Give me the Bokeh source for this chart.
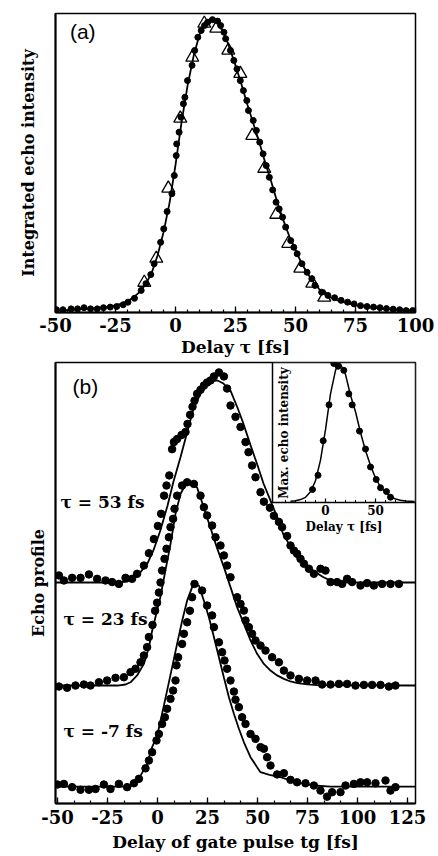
from bokeh.plotting import figure
from bokeh.models import Range1d, FixedTicker, SingleIntervalTicker, Label, CustomJSTickFormatter
from bokeh.layouts import column
from bokeh.embed import file_html
from bokeh.resources import INLINE
import math

SERIF = "DejaVu Serif"
SANS = "Liberation Sans"

# ---------------- panel (a) data ----------------
a_dot_tau = [-49.6,-46.9,-43.5,-40.8,-38.1,-35.4,-32.6,-30.0,-27.2,-24.5,-21.8,-19.8,-17.1,-14.3,-12.3,-10.3,-8.9,-6.2,-4.9,-3.5,
             -1.5,-0.5,0.3,0.5,1.5,2.3,3.3,3.9,5.0,6.9,8.0,9.3,10.7,12.1,13.4,15.4,17.5,18.8,20.2,20.9,
             22.9,24.3,25.6,27.0,28.3,29.7,30.4,32.4,33.7,35.1,36.5,37.8,39.1,40.5,41.9,43.2,44.6,45.9,48.0,49.3,
             50.7,52.7,54.8,56.8,58.1,60.9,63.5,66.3,69.0,71.7,74.4,77.1,79.8,82.5,85.2,87.9,90.7,93.4,96.1,98.8]
a_dot_I = [0.006,0.006,0.009,0.009,0.013,0.009,0.009,0.013,0.015,0.017,0.023,0.032,0.045,0.072,0.095,0.126,0.163,0.236,0.282,0.341,
           0.402,0.464,0.532,0.572,0.612,0.663,0.709,0.731,0.788,0.840,0.891,0.936,0.959,0.976,0.987,0.996,0.991,0.976,0.953,0.931,
           0.891,0.857,0.828,0.788,0.754,0.720,0.686,0.652,0.618,0.578,0.538,0.498,0.458,0.415,0.373,0.350,0.322,0.288,0.242,0.219,
           0.197,0.163,0.134,0.112,0.089,0.066,0.055,0.047,0.038,0.032,0.026,0.020,0.017,0.015,0.013,0.010,0.008,0.006,0.003,0.003]
a_tri_tau = [-13,-8,-3,2,7,12,17,22,27,32,37,42,47,52,57,62]
a_tri_I = [0.099,0.181,0.42,0.659,0.867,0.983,0.966,0.891,0.812,0.60,0.488,0.331,0.232,0.147,0.096,0.048]
a_line_tau = [-50,-47.5,-45,-42.5,-40,-37.5,-35,-32.5,-30,-27.5,-25,-22.5,-20,-17.5,-15,-12.5,-10,-7.5,-5,-2.5,
              0,2.5,5,7.5,10,12.5,15,17.5,20,22.5,25,27.5,30,32.5,35,37.5,40,42.5,45,47.5,
              50,52.5,55,57.5,60,62.5,65,67.5,70,72.5,75,77.5,80,82.5,85,87.5,90,92.5,95,97.5,100]
a_line_I = [0.003,0.004,0.005,0.006,0.008,0.009,0.010,0.012,0.014,0.017,0.021,0.027,0.036,0.048,0.066,0.092,0.13,0.19,0.27,0.37,
            0.50,0.645,0.77,0.87,0.945,0.99,1.0,0.99,0.955,0.90,0.84,0.775,0.705,0.64,0.575,0.505,0.44,0.37,0.31,0.255,
            0.21,0.165,0.13,0.10,0.075,0.058,0.046,0.038,0.032,0.027,0.022,0.018,0.015,0.013,0.011,0.009,0.007,0.006,0.005,0.004,0.003]

# ---------------- panel (b) data ----------------
b53_tg = [-49.3,-46.8,-42.7,-38.5,-34.3,-30.2,-26.0,-22.7,-19.3,-16.0,-12.7,-10.2,-6.8,-4.3,-1.8,0.2,1.8,3.3,4.5,5.9,
          7.3,8.2,9.8,12.0,14.0,15.0,16.3,17.5,18.5,19.8,21.5,23.2,24.8,26.5,28.2,30.7,33.2,34.8,36.5,39.0,
          41.5,44.0,45.5,47.3,49.0,51.5,53.2,56.2,58.2,60.7,62.3,64.8,66.5,68.2,69.8,71.5,73.2,75.7,78.2,81.5,
          84.0,86.5,89.8,92.3,94.8,97.3,101.5,104.8,108.2,112.3,116.5,120.7]
b53_v = [0.035,0.010,0.023,0.023,0.040,0.018,0.010,0.002,-0.007,0.023,0.018,0.043,0.084,0.145,0.215,0.280,0.340,0.430,0.480,0.530,
         0.660,0.695,0.710,0.730,0.745,0.785,0.830,0.870,0.900,0.934,0.954,0.975,0.990,1.000,1.020,1.040,1.020,0.960,0.876,0.820,
         0.770,0.695,0.645,0.579,0.521,0.447,0.400,0.370,0.330,0.300,0.274,0.230,0.183,0.158,0.142,0.117,0.093,0.068,0.043,0.068,
         0.059,0.002,0.002,-0.007,0.018,0.002,-0.015,-0.003,-0.015,-0.007,-0.007,-0.007]
b53_line_tg = [-51,-20,-15,-12,-9,-5,-2,1.5,5,8,11.5,15,18,21.5,25,28,30,33,36.5,40,43,46.5,50,53,56.5,60,63,66.5,70,73,76.5,80,83,86,90,95,129]
b53_line_v = [0,0,0.005,0.02,0.045,0.095,0.16,0.26,0.38,0.50,0.62,0.75,0.86,0.935,0.975,0.997,1.0,0.985,0.95,0.865,0.785,0.68,0.58,0.49,0.405,0.32,0.235,0.18,0.135,0.10,0.068,0.045,0.026,0.012,0.003,0,0]

b23_tg = [-49.3,-45.2,-41.0,-36.8,-33.5,-29.3,-25.2,-21.0,-16.8,-13.5,-11.0,-8.5,-6.8,-5.2,-4.3,-2.5,-1.2,-0.2,0.7,1.5,
          2.3,3.5,4.5,5.7,6.5,7.8,8.5,9.8,12.3,14.8,18.2,21.5,23.2,24.8,27.3,29.0,31.5,33.2,34.8,36.5,
          39.8,41.5,43.2,44.0,45.7,47.3,49.0,51.5,54.0,57.3,60.7,63.2,66.5,70.7,74.8,79.0,82.3,86.5,90.7,94.8,
          99.0,103.2,107.3,111.5,115.7,119.0]
b23_v = [-0.005,-0.011,0.0,0.005,0.0,0.016,0.025,0.038,0.041,0.066,0.083,0.115,0.149,0.190,0.240,0.300,0.370,0.410,0.460,0.510,
         0.569,0.627,0.677,0.734,0.784,0.825,0.875,0.940,0.990,1.006,0.998,0.940,0.883,0.842,0.792,0.734,0.693,0.644,0.594,0.536,
         0.437,0.404,0.371,0.322,0.289,0.256,0.223,0.198,0.173,0.140,0.115,0.074,0.050,0.033,0.025,0.025,0.005,0.005,0.008,0.008,
         0.0,0.003,0.003,0.003,-0.005,0.0]
b23_line_tg = [-51,-20,-16,-13.5,-10.2,-6.8,-4.3,-2.7,-0.5,1.5,3.2,6.5,9,11.5,14,16.5,19.8,23.2,26.5,29.8,33.2,36.5,39.8,43.2,46.5,49.8,53.2,56.5,59.8,63.2,66.5,70,75,80,129]
b23_line_v = [0,0,0.005,0.016,0.05,0.107,0.19,0.27,0.36,0.44,0.53,0.70,0.85,0.948,0.995,1.0,0.98,0.88,0.78,0.68,0.586,0.487,0.388,0.305,0.223,0.157,0.107,0.074,0.05,0.033,0.02,0.012,0.006,0.002,0]

bm7_tg = [-50.0,-46.8,-42.7,-38.5,-34.3,-31.0,-26.8,-23.5,-19.3,-15.2,-11.8,-9.3,-6.0,-4.3,-2.7,-0.5,0.7,2.3,3.7,4.8,
          6.5,7.8,9.0,9.5,10.3,12.3,13.2,14.8,16.2,17.3,18.5,22.3,24.8,27.3,28.2,30.7,32.3,33.5,34.8,36.5,
          38.2,39.0,40.7,42.3,44.0,46.5,49.0,51.5,53.2,54.8,56.5,59.8,63.2,66.5,69.8,74.0,78.2,81.5,84.8,87.3,
          91.5,94.0,98.2,101.5,104.8,109.0,114.0,116.5,119.0]
bm7_v = [0.010,0.013,-0.003,-0.016,-0.016,-0.012,0.010,-0.012,0.013,-0.003,0.016,0.038,0.090,0.129,0.170,0.228,0.260,0.310,0.343,0.385,
         0.434,0.475,0.525,0.600,0.640,0.706,0.756,0.813,0.870,0.937,1.003,0.970,0.896,0.847,0.789,0.714,0.665,0.624,0.583,0.525,
         0.470,0.430,0.393,0.343,0.310,0.260,0.236,0.195,0.187,0.145,0.104,0.060,0.066,0.033,0.021,0.016,0.005,-0.020,-0.050,-0.028,
         -0.028,0.005,0.013,0.021,0.021,0.016,0.030,-0.020,-0.003]
bm7_line_tg = [-51,-15,-11,-8.5,-5.2,-2.7,-0.2,2.3,4.8,7.3,9.8,12.3,14.8,17.3,18.5,20.7,23.2,25.7,28.2,30.7,33.2,35.7,38.2,40.7,43.2,46.5,49.8,51.5,56,61.5,66,69.8,74,78.2,86.5,129]
bm7_line_v = [0,0,0.02,0.054,0.11,0.195,0.25,0.36,0.475,0.59,0.706,0.82,0.92,0.986,1.0,0.995,0.92,0.838,0.74,0.64,0.54,0.442,0.36,0.286,0.219,0.145,0.096,0.071,0.058,0.046,0.032,0.021,0.012,0.005,0,0]

trace_labels = ["\u03c4 = 53 fs", "\u03c4 = 23 fs", "\u03c4 = -7 fs"]
trace_offsets = [1.01, 0.5, 0.0]

# ---------------- inset data ----------------
in_dot_tau = [-13,-7.5,-2.3,3.5,8.3,12.7,18.3,23.3,26.7,34,40,45,50.7,55,61,65]
in_dot_v = [0.087,0.19,0.44,0.70,1.0,0.98,0.95,0.78,0.70,0.51,0.38,0.25,0.16,0.10,0.072,0.031]
in_line_tau = [-35,-30,-25,-20,-15,-10,-5,0,5,10,13,15,20,25,30,35,40,45,50,55,60,65,70,75,80,89]
in_line_v = [0.002,0.006,0.014,0.03,0.07,0.15,0.30,0.52,0.78,0.95,1.0,0.995,0.92,0.77,0.65,0.50,0.37,0.26,0.17,0.105,0.065,0.035,0.018,0.009,0.004,0.0]
in_major_ticks = [0, 50]
in_minor_ticks = [-40, -30, -20, -10, 10, 20, 30, 40, 60, 70, 80]
in_tick_labels = ["0", "50"]

INT_FMT = "return tick.toFixed(0);"


def style_common(p):
    p.xgrid.visible = False
    p.ygrid.visible = False
    p.outline_line_color = "black"
    p.outline_line_width = 1.5
    p.background_fill_color = "white"


def style_xaxis(ax, ticker, lab_px, axlab_px, label, lab_stand, axlab_stand):
    ax.ticker = ticker
    ax.formatter = CustomJSTickFormatter(code=INT_FMT)
    ax.axis_label = label
    ax.axis_line_width = 2
    ax.major_tick_in = 6
    ax.major_tick_out = 0
    ax.minor_tick_in = 3
    ax.minor_tick_out = 0
    ax.major_tick_line_width = 1.3
    ax.minor_tick_line_width = 1.2
    ax.major_label_text_font = SERIF
    ax.major_label_text_font_style = "bold"
    ax.major_label_text_font_size = lab_px
    ax.major_label_text_color = "black"
    ax.major_label_standoff = lab_stand
    ax.axis_label_text_font = SERIF
    ax.axis_label_text_font_style = "bold"
    ax.axis_label_text_font_size = axlab_px
    ax.axis_label_text_color = "black"
    ax.axis_label_standoff = axlab_stand


def style_yaxis(ax, label, axlab_px, stand):
    ax.ticker = FixedTicker(ticks=[])
    ax.axis_label = label
    ax.axis_line_width = 2
    ax.major_tick_out = 0
    ax.major_tick_in = 0
    ax.minor_tick_out = 0
    ax.minor_tick_in = 0
    ax.major_label_standoff = 0
    ax.axis_label_text_font = SERIF
    ax.axis_label_text_font_style = "bold"
    ax.axis_label_text_font_size = axlab_px
    ax.axis_label_text_color = "black"
    ax.axis_label_standoff = stand


# ---------------- panel (a) ----------------
pa = figure(width=438, height=360, x_range=Range1d(-50, 100), y_range=Range1d(-0.0034, 1.017),
            output_backend="svg", toolbar_location=None,
            min_border_left=48, min_border_right=20, min_border_top=13, min_border_bottom=48)
style_common(pa)
style_xaxis(pa.xaxis[0], SingleIntervalTicker(interval=25, num_minor_ticks=5), "18px", "17px",
            "Delay \u03c4 [fs]", 5, 2)
style_yaxis(pa.yaxis[0], "Integrated echo intensity", "16px", 18)
pa.line(a_line_tau, a_line_I, line_color="black", line_width=1.8)
pa.scatter(a_dot_tau, a_dot_I, marker="circle", size=6, color="black")
pa.scatter(a_tri_tau, a_tri_I, marker="triangle", size=13, fill_color=None, line_color="black", line_width=1.3)
pa.add_layout(Label(x=-44, y=0.995, text="(a)", text_font=SANS, text_font_size="21px",
                    text_align="left", text_baseline="top", text_color="black"))

# ---------------- panel (b) ----------------
pb = figure(width=438, height=496, x_range=Range1d(-51, 129), y_range=Range1d(-0.084, 2.099),
            output_backend="svg", toolbar_location=None,
            min_border_left=55, min_border_right=23, min_border_top=2, min_border_bottom=53)
style_common(pb)
style_xaxis(pb.xaxis[0], SingleIntervalTicker(interval=25, num_minor_ticks=3), "18px", "17px",
            "Delay of gate pulse tg [fs]", 6, 5)
style_yaxis(pb.yaxis[0], "Echo profile", "16px", 8)

traces = [
    (b53_tg, b53_v, b53_line_tg, b53_line_v),
    (b23_tg, b23_v, b23_line_tg, b23_line_v),
    (bm7_tg, bm7_v, bm7_line_tg, bm7_line_v),
]
for (dx, dv, lx, lv), off in zip(traces, trace_offsets):
    pb.line(lx, [off + v for v in lv], line_color="black", line_width=1.8)
    pb.scatter(dx, [off + v for v in dv], marker="circle", size=7.5, color="black")

label_pos = [(-48.5, 1.406), (-47, 0.827), (-47, 0.277)]
for txt, (lx_, ly_) in zip(trace_labels, label_pos):
    pb.add_layout(Label(x=lx_, y=ly_, text=txt, text_font=SERIF, text_font_style="bold",
                        text_font_size="17px", text_align="left", text_baseline="middle", text_color="black"))
pb.add_layout(Label(x=-42.5, y=2.035, text="(b)", text_font=SANS, text_font_size="21px",
                    text_align="left", text_baseline="top", text_color="black"))

# ---------------- inset (drawn inside panel b on its own ranges) ----------------
IN_X0, IN_X1 = -53, 90
IN_Y0, IN_Y1 = -0.007, 1.007
pb.extra_x_ranges = {"inset": Range1d(-270, 90)}
pb.extra_y_ranges = {"inset": Range1d(-2.188, 1.007)}
RN = dict(x_range_name="inset", y_range_name="inset")

pb.quad(left=[IN_X0], right=[IN_X1], bottom=[IN_Y0], top=[IN_Y1], fill_color="white",
        line_color="black", line_width=1.5, **RN)
pb.ray(x=in_major_ticks, y=[IN_Y0] * len(in_major_ticks), length=4, length_units="screen",
       angle=90, angle_units="deg", line_color="black", line_width=1.2, **RN)
pb.ray(x=in_minor_ticks, y=[IN_Y0] * len(in_minor_ticks), length=2.5, length_units="screen",
       angle=90, angle_units="deg", line_color="black", line_width=1.0, **RN)
pb.line(in_line_tau, in_line_v, line_color="black", line_width=1.5, **RN)
pb.scatter(in_dot_tau, in_dot_v, marker="circle", size=6, color="black", **RN)

for tv, tl in zip(in_major_ticks, in_tick_labels):
    pb.add_layout(Label(x=tv, y=-0.022, text=tl, text_font=SERIF, text_font_style="bold",
                        text_font_size="12px", text_align="center", text_baseline="top",
                        text_color="black", **RN))
pb.add_layout(Label(x=18.5, y=-0.188, text="Delay \u03c4 [fs]", text_font=SERIF, text_font_style="bold",
                    text_font_size="12px", text_align="center", text_baseline="middle",
                    text_color="black", **RN))
pb.add_layout(Label(x=-42, y=0.02, text="Max. echo intensity", angle=math.pi / 2,
                    text_font=SERIF, text_font_style="bold", text_font_size="12px",
                    text_align="left", text_baseline="middle", text_color="black", **RN))

layout = column(pa, pb)
open("out.html", "w").write(file_html(layout, INLINE))
